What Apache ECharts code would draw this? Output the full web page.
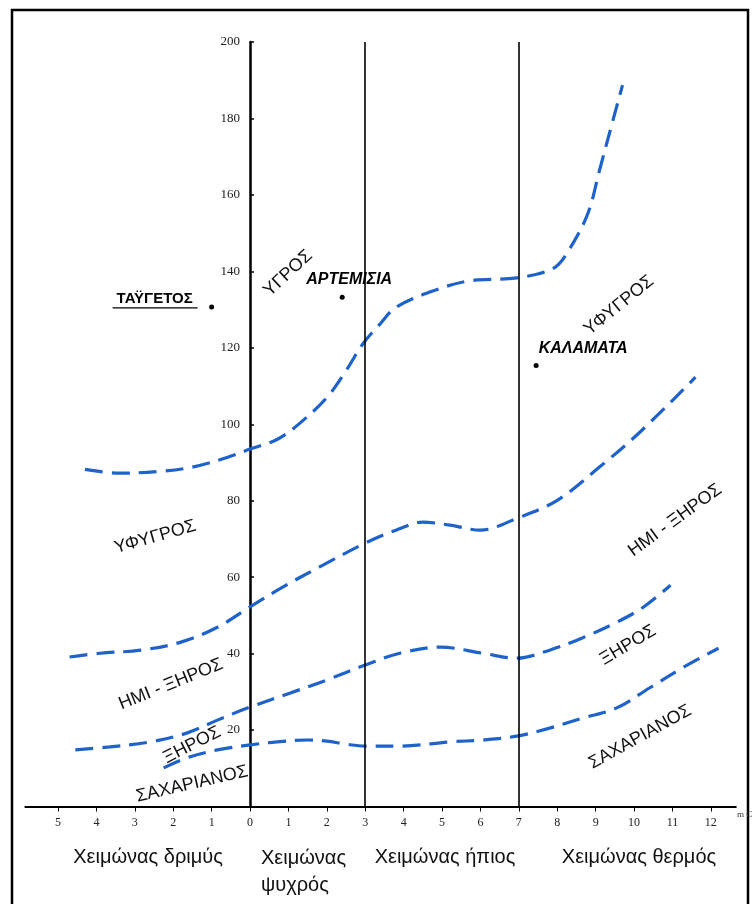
<!DOCTYPE html>
<html>
<head>
<meta charset="utf-8">
<script src="https://cdn.jsdelivr.net/npm/echarts@6/dist/echarts.min.js"></script>
<style>
  html, body { margin: 0; padding: 0; background: #fff; }
  #chart { width: 753px; height: 904px; }
</style>
</head>
<body>
<div id="chart"></div>
<script>
  // x: m (°C), y: Q2 — Emberger climagram
  const xTicks = [-5, -4, -3, -2, -1, 0, 1, 2, 3, 4, 5, 6, 7, 8, 9, 10, 11, 12]
  const yTicks = [20, 40, 60, 80, 100, 120, 140, 160, 180, 200]
  const winterBounds = [3, 7]

  // bioclimatic limits
  const humidLimit = [
    [-4.3, 88.2], [-3.4, 87.2], [-2.3, 87.7], [-1.5, 88.8], [-0.6, 91.3], [0, 93.5],
    [0.7, 96], [1.3, 100.3], [2.0, 107], [2.5, 114], [2.95, 121.2], [3.4, 126.4],
    [3.8, 130.6], [4.8, 135], [5.7, 137.5], [6.95, 138.3], [7.9, 140.8], [8.3, 145.5],
    [8.8, 155.2], [9.1, 166.4], [9.45, 179.5], [9.7, 188.7],
  ]
  const subhumidLimit = [
    [-4.7, 39.1], [-3.9, 40.1], [-2.85, 40.9], [-1.8, 43], [-0.85, 46.9], [0, 52.2],
    [0.85, 57.4], [1.8, 62.6], [3, 68.9], [3.8, 72.3], [4.5, 74.4], [5.2, 73.6],
    [6, 72.3], [6.95, 75.4], [8, 80.1], [9.1, 88.8], [10.15, 97.9], [11.6, 112.3],
  ]
  const semiaridLimit = [
    [-4.55, 14.8], [-3.65, 15.6], [-2.6, 16.9], [-1.65, 19.2], [-0.85, 22.6], [0, 26],
    [1.05, 29.7], [2, 33.1], [3, 37], [3.9, 40.1], [4.95, 41.7], [6.05, 40.1],
    [6.95, 38.8], [7.8, 40.9], [8.65, 44.1], [9.55, 48.2], [10.25, 52.2], [10.95, 57.9],
  ]
  const aridLimit = [
    [-2.25, 10.1], [-1.65, 12.7], [-0.85, 14.8], [0, 16.1], [0.7, 16.9], [1.5, 17.4],
    [2, 17.1], [2.5, 16.3], [3, 15.8], [3.9, 15.8], [5.2, 16.9], [6.05, 17.4],
    [6.95, 18.4], [7.8, 20.5], [8.65, 23.1], [9.55, 25.8], [10.4, 31], [11.3, 36.5],
    [12.2, 41.4],
  ]

  const stationNames = ['ΤΑΫΓΕΤΟΣ', 'ΑΡΤΕΜΙΣΙΑ', 'ΚΑΛΑΜΑΤΑ']
  const stationM = [-1.0, 2.4, 7.45]
  const stationQ = [130.7, 133.2, 115.4]

  const zoneNames = ['ΥΓΡΟΣ', 'ΥΦΥΓΡΟΣ', 'ΥΦΥΓΡΟΣ', 'ΗΜΙ - ΞΗΡΟΣ', 'ΗΜΙ - ΞΗΡΟΣ',
    'ΞΗΡΟΣ', 'ΞΗΡΟΣ', 'ΣΑΧΑΡΙΑΝΟΣ', 'ΣΑΧΑΡΙΑΝΟΣ']
  const zoneM = [0.99, 9.61, -2.47, -2.06, 11.07, -1.51, 9.84, -1.51, 10.16]
  const zoneQ = [139.5, 131.1, 70.5, 32.0, 74.9, 16.1, 42.2, 5.9, 18.2]
  const zoneAngle = [43, 39, 16, 22, 36, 27, 31, 13, 29]

  const winterNames = ['Χειμώνας δριμύς', 'Χειμώνας\nψυχρός', 'Χειμώνας ήπιος', 'Χειμώνας θερμός']

  const blue = '#1f63c8'
  const textColor = '#111'

  const gridLeft = 25.4
  const gridRight = 17.2
  const xMin = -5.85
  const xMax = 12.65
  // y axis drawn at m = 0
  const yAxisShift = ((0 - xMin) / (xMax - xMin)) * (753 - gridLeft - gridRight)

  function limitSeries(name, data) {
    return {
      name: name,
      type: 'line',
      data: data,
      smooth: 0.35,
      symbol: 'none',
      silent: true,
      lineStyle: { color: blue, width: 3.2, type: [18, 9], cap: 'butt' },
      z: 3,
    }
  }

  const chart = echarts.init(document.getElementById('chart'))
  chart.setOption({
    animation: false,
    backgroundColor: '#fff',
    grid: { left: gridLeft, right: gridRight, top: 42, bottom: 97.5, containLabel: false, outerBoundsMode: 'none' },
    xAxis: {
      type: 'value',
      min: xMin,
      max: xMax,
      splitLine: { show: false },
      axisLine: { lineStyle: { color: '#000', width: 2 } },
      axisTick: { length: 5, lineStyle: { color: '#000', width: 1 }, customValues: xTicks },
      axisLabel: {
        customValues: xTicks,
        formatter: (v) => String(Math.abs(v)),
        fontFamily: 'Liberation Serif',
        fontSize: 12,
        color: '#222',
        margin: 10,
      },
    },
    yAxis: {
      type: 'value',
      min: 0,
      max: 200,
      offset: -yAxisShift,
      splitLine: { show: false },
      axisLine: { onZero: false, lineStyle: { color: '#000', width: 2.5 } },
      axisTick: { inside: true, length: 4, lineStyle: { color: '#000', width: 1.5 }, customValues: yTicks },
      axisLabel: {
        customValues: yTicks,
        fontFamily: 'Liberation Serif',
        fontSize: 13,
        color: '#222',
        margin: 10,
      },
    },
    series: [
      limitSeries('humid', humidLimit),
      limitSeries('subhumid', subhumidLimit),
      limitSeries('semiarid', semiaridLimit),
      limitSeries('arid', aridLimit),
      {
        name: 'winter',
        type: 'line',
        data: [],
        markLine: {
          silent: true,
          symbol: ['none', 'none'],
          label: { show: false },
          lineStyle: { color: '#000', width: 1.6, type: 'solid' },
          data: winterBounds.map((b) => ({ xAxis: b })),
        },
      },
      {
        name: 'stations',
        type: 'scatter',
        symbol: 'circle',
        symbolSize: 5,
        itemStyle: { color: '#000', opacity: 1 },
        silent: true,
        z: 5,
        label: {
          show: true,
          position: 'inside',
          formatter: '{b}',
          fontFamily: 'Liberation Sans',
          fontWeight: 'bold',
          fontStyle: 'italic',
          fontSize: 16,
          color: '#000',
          textBorderWidth: 0,
        },
        data: stationNames.map((n, i) => {
          const item = { name: n, value: [stationM[i], stationQ[i]] }
          if (i === 0) item.label = { offset: [-57, -8], fontStyle: 'normal', fontSize: 15 }
          if (i === 1) item.label = { offset: [7, -18] }
          if (i === 2) item.label = { offset: [47, -17] }
          return item
        }),
      },
      {
        name: 'zones',
        type: 'scatter',
        symbolSize: 0,
        itemStyle: { opacity: 1 },
        silent: true,
        z: 4,
        label: {
          show: true,
          position: 'inside',
          formatter: '{b}',
          fontFamily: 'Liberation Sans',
          fontSize: 18,
          color: textColor,
          textBorderWidth: 0,
        },
        data: zoneNames.map((n, i) => ({
          name: n,
          value: [zoneM[i], zoneQ[i]],
          label: { rotate: zoneAngle[i] },
        })),
      },
    ],
  })

  // underline under the Taygetos label, bottom winter captions, frame
  const tp = chart.convertToPixel({ gridIndex: 0 }, [stationM[0], stationQ[0]])
  const capFont = '20px "Liberation Sans"'
  chart.setOption({
    graphic: [
      {
        type: 'rect',
        shape: { x: 12, y: 10, width: 736, height: 900 },
        style: { fill: 'none', stroke: '#000', lineWidth: 2.5 },
        silent: true,
      },
      {
        type: 'line',
        shape: { x1: tp[0] - 99, y1: tp[1] + 1, x2: tp[0] - 14, y2: tp[1] + 1 },
        style: { stroke: '#000', lineWidth: 1.4 },
        silent: true,
      },
      {
        type: 'text', x: 148, y: 857,
        style: { text: winterNames[0], font: capFont, fill: textColor, align: 'center', verticalAlign: 'middle' },
      },
      {
        type: 'text', x: 261, y: 845,
        style: { text: winterNames[1], font: capFont, fill: textColor, align: 'left', verticalAlign: 'top', lineHeight: 27 },
      },
      {
        type: 'text', x: 445, y: 857,
        style: { text: winterNames[2], font: capFont, fill: textColor, align: 'center', verticalAlign: 'middle' },
      },
      {
        type: 'text', x: 639, y: 857,
        style: { text: winterNames[3], font: capFont, fill: textColor, align: 'center', verticalAlign: 'middle' },
      },
      {
        type: 'text', x: 737, y: 815,
        style: { text: 'm C', font: '9px "Liberation Serif"', fill: '#333', align: 'left', verticalAlign: 'middle' },
      },
    ],
  })
</script>
</body>
</html>
